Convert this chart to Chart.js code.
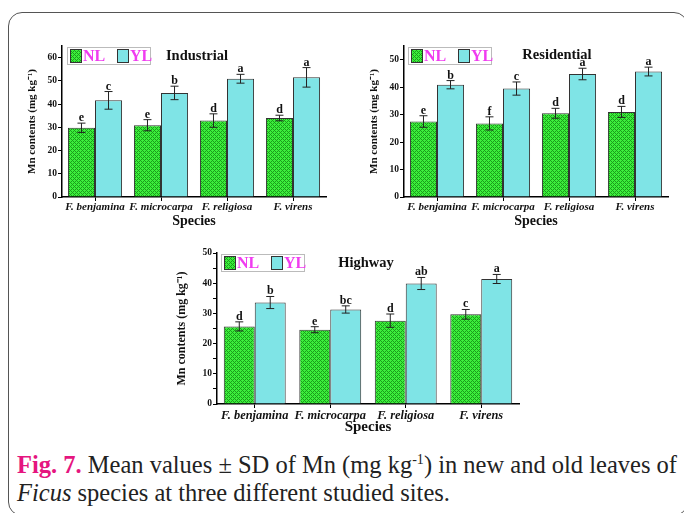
<!DOCTYPE html>
<html>
<head>
<meta charset="utf-8">
<script src="https://cdn.jsdelivr.net/npm/chart.js@4.4.1/dist/chart.umd.min.js"></script>
<style>
  body { margin: 0; width: 684px; height: 513px; overflow: hidden; background: #fff; position: relative; }
  .frame { position: absolute; left: 8px; top: 12px; width: 680px; height: 504px; border: 1.5px solid #555; border-radius: 14px; box-sizing: border-box; }
  .box { position: absolute; }
  .caption { position: absolute; left: 17px; top: 451px; font-family: "Liberation Serif"; font-size: 24.5px; line-height: 28px; color: #222; white-space: nowrap; }
  .caption b { color: #e5157f; }
  .caption sup { font-size: 14px; line-height: 0; vertical-align: 9px; }
</style>
</head>
<body>
<div class="frame"></div>
<div class="box" style="left:18px;top:38px"><canvas id="indChart" width="315" height="192"></canvas></div>
<div class="box" style="left:360px;top:38px"><canvas id="resChart" width="315" height="192"></canvas></div>
<div class="box" style="left:168px;top:244px"><canvas id="hwChart" width="362" height="196"></canvas></div>
<div class="caption"><b>Fig. 7.</b> Mean values ± SD of Mn (mg kg<sup>-1</sup>) in new and old leaves of<br><i>Ficus</i> species at three different studied sites.</div>
<script>
// data
const species = ['F. benjamina', 'F. microcarpa', 'F. religiosa', 'F. virens'];
const seriesNames = ['NL', 'YL'];

// Industrial
const indNL = [29.8, 30.9, 32.9, 34.0];
const indNLsd = [2.0, 2.4, 2.9, 1.2];
const indYL = [41.6, 44.8, 50.9, 51.5];
const indYLsd = [3.8, 2.9, 1.9, 4.2];
const indNLlet = ['e', 'e', 'd', 'd'];
const indYLlet = ['c', 'b', 'a', 'a'];
const indTicks = [0, 10, 20, 30, 40, 50, 60];

// Residential
const resNL = [27.5, 26.8, 30.5, 31.0];
const resNLsd = [2.1, 2.4, 1.8, 2.0];
const resYL = [40.9, 39.5, 44.8, 45.7];
const resYLsd = [1.5, 2.4, 2.1, 1.6];
const resNLlet = ['e', 'f', 'd', 'd'];
const resYLlet = ['b', 'c', 'a', 'a'];
const resTicks = [0, 10, 20, 30, 40, 50];

// Highway
const hwNL = [25.7, 24.6, 27.6, 29.7];
const hwNLsd = [1.5, 1.0, 2.2, 1.6];
const hwYL = [33.6, 31.3, 39.9, 41.4];
const hwYLsd = [2.0, 1.2, 2.0, 1.5];
const hwNLlet = ['d', 'e', 'd', 'c'];
const hwYLlet = ['b', 'bc', 'ab', 'a'];
const hwTicks = [0, 10, 20, 30, 40, 50];

const SERIF = "'Liberation Serif'";
Chart.defaults.font.family = SERIF;

// green crosshatch fill for NL bars
function greenPattern() {
  const c = document.createElement('canvas');
  c.width = 4; c.height = 4;
  const g = c.getContext('2d');
  g.fillStyle = '#3cee3c';
  g.fillRect(0, 0, 4, 4);
  g.fillStyle = '#1a9e1a';
  for (let x = 0; x < 4; x++) {
    for (let y = 0; y < 4; y++) {
      if ((x + y) % 4 === 0 || ((x - y) + 4) % 4 === 0) g.fillRect(x, y, 1, 1);
    }
  }
  return g.createPattern(c, 'repeat');
}
const nlFill = greenPattern();
const ylFill = '#7fe4e6';

// error bars + significance letters
const errorBars = {
  id: 'errorBars',
  afterDatasetsDraw(chart) {
    const ctx = chart.ctx;
    const y = chart.scales.y;
    ctx.save();
    chart.data.datasets.forEach((ds, di) => {
      const meta = chart.getDatasetMeta(di);
      meta.data.forEach((bar, i) => {
        const v = ds.data[i], sd = ds.sd[i];
        const top = y.getPixelForValue(v + sd);
        const bot = y.getPixelForValue(v - sd);
        ctx.strokeStyle = '#222';
        ctx.lineWidth = 1;
        ctx.beginPath();
        ctx.moveTo(bar.x, top); ctx.lineTo(bar.x, bot);
        ctx.moveTo(bar.x - 4, top); ctx.lineTo(bar.x + 4, top);
        ctx.moveTo(bar.x - 4, bot); ctx.lineTo(bar.x + 4, bot);
        ctx.stroke();
        ctx.fillStyle = '#111';
        ctx.font = 'bold ' + chart.options.plugins.errorBars.letterSize + 'px ' + SERIF;
        ctx.textAlign = 'center';
        ctx.textBaseline = 'alphabetic';
        ctx.fillText(ds.letters[i], bar.x, top - 2);
      });
    });
    ctx.restore();
  }
};

// legend box and site title inside the plot
const insideLegend = {
  id: 'insideLegend',
  afterDraw(chart, args, opts) {
    const ctx = chart.ctx;
    const a = chart.chartArea;
    const x0 = a.left + opts.dx, y0 = a.top + opts.dy;
    ctx.save();
    ctx.fillStyle = '#fff';
    ctx.strokeStyle = '#bbb';
    ctx.lineWidth = 1;
    ctx.fillRect(x0, y0, 83, 17);
    ctx.strokeRect(x0 + 0.5, y0 + 0.5, 83, 17);
    const fills = [nlFill, ylFill];
    ctx.font = 'bold 16px ' + SERIF;
    ctx.textBaseline = 'middle';
    ctx.textAlign = 'left';
    seriesNames.forEach((name, k) => {
      const sx = x0 + 3 + k * 47;
      ctx.fillStyle = fills[k];
      ctx.fillRect(sx, y0 + 2, 11, 14);
      ctx.strokeStyle = '#333';
      ctx.strokeRect(sx + 0.5, y0 + 2.5, 11, 13);
      ctx.fillStyle = '#f03cf0';
      ctx.fillText(name, sx + 13, y0 + 10);
    });
    ctx.fillStyle = '#111';
    ctx.font = 'bold 14.5px ' + SERIF;
    ctx.textAlign = 'center';
    ctx.fillText(opts.title, a.left + opts.titleX, a.top + opts.titleY);
    ctx.restore();
  }
};

function makeChart(id, nl, nlsd, nlLet, yl, ylsd, ylLet, ticks, cfg) {
  // major ticks from the list, a minor tick half way between
  const allTicks = [];
  ticks.forEach((v, i) => {
    allTicks.push(v);
    const next = i < ticks.length - 1 ? ticks[i + 1] : v + (ticks[1] - ticks[0]);
    if ((v + next) / 2 <= cfg.max) allTicks.push((v + next) / 2);
  });
  return new Chart(document.getElementById(id), {
    type: 'bar',
    data: {
      labels: species,
      datasets: [
        { label: seriesNames[0], data: nl, sd: nlsd, letters: nlLet, backgroundColor: nlFill,
          borderColor: '#333', borderWidth: 1, categoryPercentage: 0.82, barPercentage: 1.0 },
        { label: seriesNames[1], data: yl, sd: ylsd, letters: ylLet, backgroundColor: ylFill,
          borderColor: '#333', borderWidth: 1, categoryPercentage: 0.82, barPercentage: 1.0 }
      ]
    },
    options: {
      responsive: false,
      animation: false,
      devicePixelRatio: 1,
      layout: { padding: cfg.pad },
      plugins: {
        legend: { display: false },
        tooltip: { enabled: false },
        errorBars: { letterSize: cfg.letterSize },
        insideLegend: { dx: cfg.legDx, dy: cfg.legDy, title: cfg.title, titleX: cfg.titleX, titleY: cfg.titleY }
      },
      scales: {
        x: {
          grid: { display: true, drawOnChartArea: false, drawTicks: true, tickLength: 4, offset: false,
                  color: '#000', tickColor: '#000' },
          border: { display: true, color: '#000', width: 1.5 },
          ticks: { color: '#111', font: { family: SERIF, size: cfg.xSize, weight: 'bold', style: 'italic' },
                   padding: cfg.xPad, autoSkip: false, maxRotation: 0, minRotation: 0 },
          title: { display: true, text: 'Species', color: '#111',
                   font: { family: SERIF, size: cfg.spSize, weight: 'bold' }, padding: { top: 0, bottom: cfg.xTitlePad } },
          afterFit: s => { s.height = cfg.xH; }
        },
        y: {
          min: 0, max: cfg.max,
          afterBuildTicks: s => { s.ticks = allTicks.map(v => ({ value: v })); },
          grid: { display: true, drawOnChartArea: false, drawTicks: true, tickLength: 4, color: '#000', tickColor: '#000' },
          border: { display: true, color: '#000', width: 1.5 },
          ticks: { color: '#111', font: { family: SERIF, size: 9.5, weight: 'bold' }, padding: 1,
                   callback: v => ticks.includes(v) ? v : '' },
          title: { display: true, text: 'Mn contents (mg kg⁻¹)', color: '#111',
                   font: { family: SERIF, size: cfg.ySize, weight: 'bold' }, padding: { top: cfg.yTitlePad, bottom: 0 } },
          afterFit: s => { s.width = cfg.yW; }
        }
      }
    },
    plugins: [errorBars, insideLegend]
  });
}

makeChart('indChart', indNL, indNLsd, indNLlet, indYL, indYLsd, indYLlet, indTicks, {
  max: 65, pad: { left: 0, right: 7, top: 8, bottom: 0 }, yW: 44, xH: 33,
  xSize: 11, xPad: 0, spSize: 14, xTitlePad: 0, yTitlePad: 8, ySize: 11, letterSize: 12,
  legDx: 5, legDy: 1, title: 'Industrial', titleX: 135, titleY: 10
});
makeChart('resChart', resNL, resNLsd, resNLlet, resYL, resYLsd, resYLlet, resTicks, {
  max: 55, pad: { left: 0, right: 7, top: 8, bottom: 0 }, yW: 44, xH: 33,
  xSize: 11, xPad: 0, spSize: 14, xTitlePad: 0, yTitlePad: 8, ySize: 11, letterSize: 12,
  legDx: 4, legDy: 1, title: 'Residential', titleX: 153, titleY: 9
});
makeChart('hwChart', hwNL, hwNLsd, hwNLlet, hwYL, hwYLsd, hwYLlet, hwTicks, {
  max: 50, pad: { left: 0, right: 11, top: 9, bottom: 1 }, yW: 49, xH: 35,
  xSize: 12.4, xPad: 0, spSize: 15, xTitlePad: 3, yTitlePad: 7, ySize: 12, letterSize: 12,
  legDx: 4, legDy: 1, title: 'Highway', titleX: 149, titleY: 10
});
</script>
</body>
</html>
